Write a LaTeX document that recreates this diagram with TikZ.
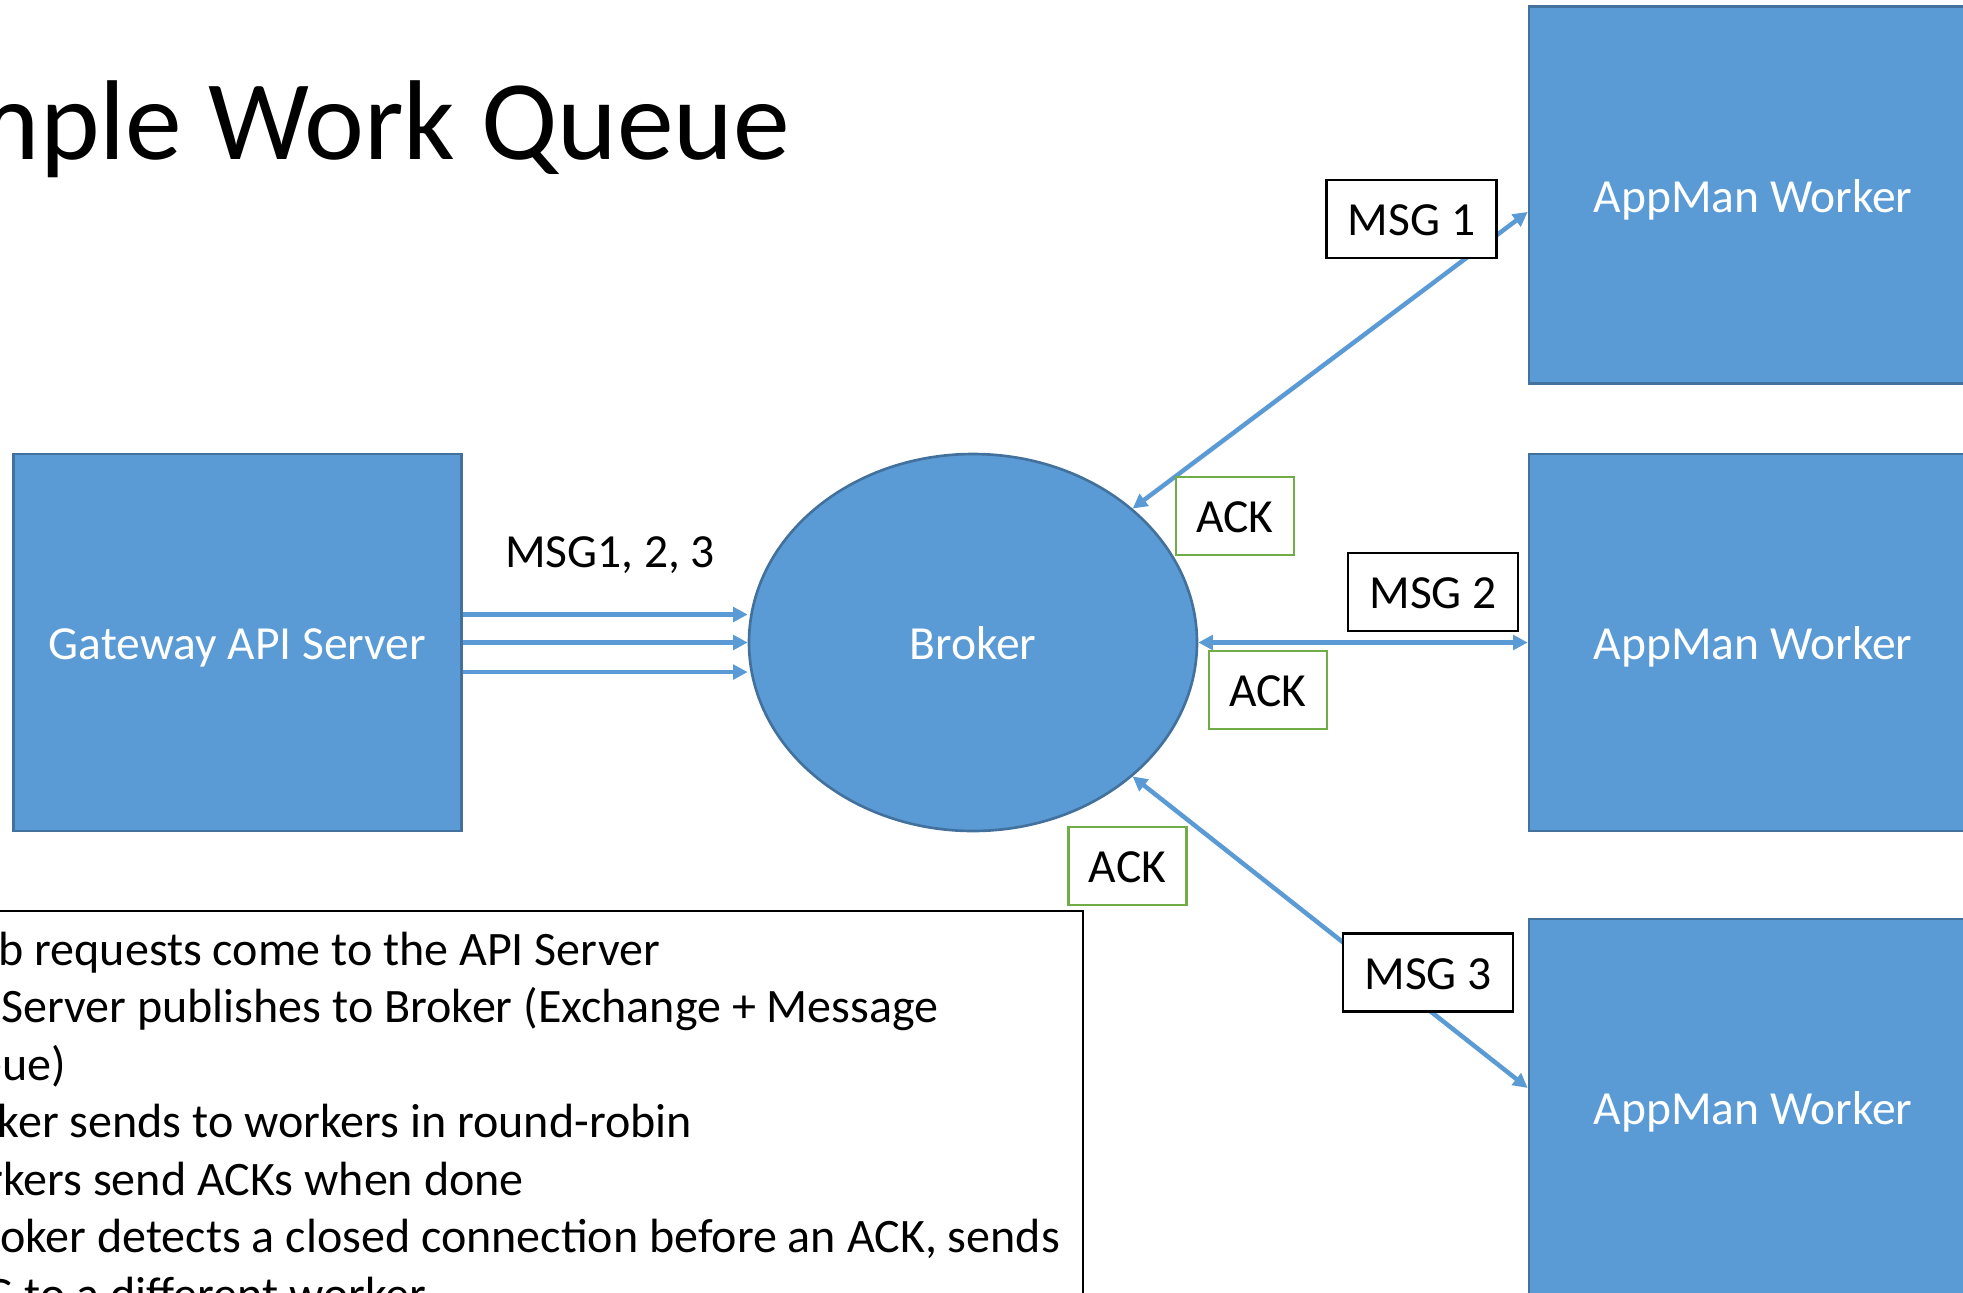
\documentclass[tikz,border=0pt]{standalone}
\usepackage{fontspec}
\setmainfont{Carlito}
\usetikzlibrary{shapes.geometric,arrows.meta}
\definecolor{blockfill}{HTML}{5B9BD5}
\definecolor{blockedge}{HTML}{41719C}
\definecolor{ackgreen}{HTML}{70AD47}
\tikzset{
  block/.style={rectangle,draw=blockedge,line width=1pt,fill=blockfill,text=white,
    minimum width=169.7pt,minimum height=142.8pt,text height=17pt,text depth=4pt,
    font=\fontsize{18}{21.8}\selectfont},
  hub/.style={block,ellipse},
  tag/.style={rectangle,draw=black,line width=0.95pt,fill=white,inner sep=0pt,
    minimum width=64.4pt,minimum height=29.5pt,text height=16.5pt,text depth=4pt,
    font=\fontsize{18}{21.8}\selectfont},
  acktag/.style={tag,draw=ackgreen,minimum width=44.7pt},
  flow/.style={draw=blockfill,line width=1.7pt,->},
  twoway/.style={flow,<->},
  notetext/.style={anchor=base west,inner sep=0pt,font=\fontsize{18.2}{21.8}\selectfont},
}
\begin{document}
\begin{tikzpicture}[x=0.3788pt,y=-0.3788pt,>={Triangle[length=5.5pt,width=5.5pt]}]
    \path[use as bounding box,clip] (0,0) rectangle (1963,1293);
    %% title
    \node[anchor=base west,inner sep=0pt,font=\fontsize{43}{52}\selectfont] (title) at (-129,159) {Simple Work Queue};
    %% publisher, broker and workers
    \node[block] (gateway) at (237.5,642.5) {Gateway API Server};
    \node[hub] (broker) at (973,642.5) {Broker};
    \node[block] (w1) at (1753,195) {AppMan Worker};
    \node[block] (w2) at (1753,642.5) {AppMan Worker};
    \node[block] (w3) at (1753,1107.5) {AppMan Worker};
    %% publish to broker
    \foreach \dy in {10.6pt,0pt,-11.2pt}
        \draw[flow] ([yshift=\dy]gateway.east) -- ([yshift=\dy]broker.west);
    \node[font=\fontsize{18}{21.8}\selectfont] (pub) at (610,555) {MSG1, 2, 3};
    %% round-robin to workers, acks back
    \draw[twoway] (broker.40) -- ([yshift=-6.4pt]w1.west);
    \draw[twoway] (broker.east) -- (w2.west);
    \draw[twoway] (broker.-40) -- ([yshift=7.4pt]w3.west);
    \node[tag] (msg1) at (1411.5,219) {MSG 1};
    \node[tag] (msg2) at (1433,592) {MSG 2};
    \node[tag] (msg3) at (1428,972.5) {MSG 3};
    \node[acktag] (ack1) at (1235,516) {ACK};
    \node[acktag] (ack2) at (1268,690) {ACK};
    \node[acktag] (ack3) at (1127.5,866) {ACK};
    %% notes
    \node[draw,line width=0.9pt,minimum width=466.7pt,minimum height=185.6pt,anchor=north west] (notes) at (-150,910) {};
    \foreach \dx/\txt [count=\i from 0] in {-67/{Web requests come to the API Server},
        -75/{API Server publishes to Broker (Exchange + Message},-80/{Queue)},
        -70/{Broker sends to workers in round-robin},-80/{Workers send ACKs when done},
        -80/{If Broker detects a closed connection before an ACK, sends},
        -80/{MSG to a different worker}}
        \node[notetext] (note\i) at (\dx,965+57.5*\i) {\txt};
\end{tikzpicture}
\end{document}
